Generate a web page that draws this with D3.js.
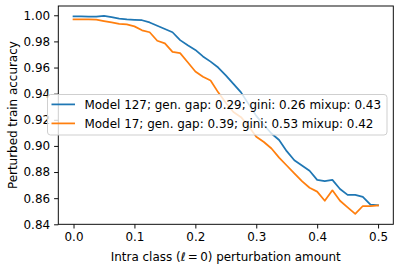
<!DOCTYPE html>
<html>
<head>
<meta charset="utf-8">
<script src="https://cdn.jsdelivr.net/npm/d3@7"></script>
<style>
  body { margin: 0; background: #fff; }
  text { font-family: "DejaVu Sans", sans-serif; fill: #000; }
</style>
</head>
<body>
<svg id="chart" width="399" height="272"></svg>
<script>
// perturbation amounts 0 .. 0.5 in steps of 0.0125
const amounts = d3.range(41).map(i => i * 0.0125);

const model127 = [
  0.9992, 0.9991, 0.9990, 0.9989, 0.9995, 0.9985, 0.9975, 0.9968, 0.9965, 0.9962,
  0.9945, 0.9920, 0.9895, 0.9870, 0.9810, 0.9770, 0.9735, 0.9685, 0.9645, 0.9600,
  0.9540, 0.9475, 0.9410, 0.9320, 0.9230, 0.9160, 0.9095, 0.9045, 0.8960, 0.8890,
  0.8850, 0.8810, 0.8740, 0.8730, 0.8740, 0.8670, 0.8625, 0.8625, 0.8610, 0.8550,
  0.8545
];

const model17 = [
  0.9969, 0.9969, 0.9968, 0.9966, 0.9955, 0.9945, 0.9935, 0.9930, 0.9915, 0.9885,
  0.9870, 0.9805, 0.9785, 0.9720, 0.9710, 0.9640, 0.9570, 0.9530, 0.9500, 0.9410,
  0.9330, 0.9260, 0.9220, 0.9150, 0.9070, 0.9030, 0.8980, 0.8910, 0.8850, 0.8790,
  0.8730, 0.8680, 0.8650, 0.8580, 0.8660, 0.8580, 0.8530, 0.8480, 0.8540, 0.8540,
  0.8545
];

const seriesNames = [
  "Model 127; gen. gap: 0.29; gini: 0.26 mixup: 0.43",
  "Model 17; gen. gap: 0.39; gini: 0.53 mixup: 0.42"
];
const seriesColors = ["#1f77b4", "#ff7f0e"];

const xTicks = [0.0, 0.1, 0.2, 0.3, 0.4, 0.5];
const yTicks = [0.84, 0.86, 0.88, 0.90, 0.92, 0.94, 0.96, 0.98, 1.00];

const svg = d3.select("#chart");
const plot = { left: 58.3, right: 393.3, top: 6, bottom: 224.3 };

// pick a font size so the first legend entry is as wide as in the picture (~296px)
const probe = svg.append("text").attr("font-size", 11.9).text(seriesNames[0]);
const probeW = probe.node().getComputedTextLength();
probe.remove();
const fontSize = probeW > 0 ? 11.9 * 296.4 / probeW : 11.9;

const x = d3.scaleLinear().domain([-0.025, 0.525]).range([plot.left, plot.right]);
const y = d3.scaleLinear().domain([0.84, 1.0071]).range([plot.bottom, plot.top]);

// axes
const xAxis = d3.axisBottom(x).tickValues(xTicks).tickFormat(d3.format(".1f")).tickSize(4.2).tickPadding(4);
const yAxis = d3.axisLeft(y).tickValues(yTicks).tickFormat(d3.format(".2f")).tickSize(4.2).tickPadding(4);

const gx = svg.append("g").attr("transform", `translate(0,${plot.bottom})`).call(xAxis);
const gy = svg.append("g").attr("transform", `translate(${plot.left},0)`).call(yAxis);
[gx, gy].forEach(g => {
  g.select(".domain").remove();
  g.selectAll(".tick line").attr("stroke", "#000").attr("stroke-width", 0.95);
  g.selectAll(".tick text").attr("font-size", fontSize).attr("font-family", "DejaVu Sans").attr("fill", "#000");
});

// lines
const line = d3.line().x((d, i) => x(amounts[i])).y(d => y(d));
[model127, model17].forEach((s, k) => {
  svg.append("path")
    .datum(s)
    .attr("d", line)
    .attr("fill", "none")
    .attr("stroke", seriesColors[k])
    .attr("stroke-width", 1.75)
    .attr("stroke-linejoin", "round")
    .attr("stroke-linecap", "square");
});

// frame
svg.append("rect")
  .attr("x", plot.left).attr("y", plot.top)
  .attr("width", plot.right - plot.left).attr("height", plot.bottom - plot.top)
  .attr("fill", "none").attr("stroke", "#000").attr("stroke-width", 0.95);

// legend
const legend = svg.append("g");
legend.append("rect")
  .attr("x", 47.5).attr("y", 94.5).attr("width", 339.5).attr("height", 40.5)
  .attr("rx", 3)
  .attr("fill", "#fff").attr("fill-opacity", 0.8)
  .attr("stroke", "#cccccc").attr("stroke-width", 0.95);
seriesNames.forEach((name, k) => {
  const ly = 104.4 + k * 19;
  legend.append("line")
    .attr("x1", 51.5).attr("x2", 75).attr("y1", ly).attr("y2", ly)
    .attr("stroke", seriesColors[k]).attr("stroke-width", 1.75);
  legend.append("text")
    .attr("x", 84.5).attr("y", ly + 0.36 * fontSize)
    .attr("font-size", fontSize)
    .text(name);
});

// axis labels
const xl = svg.append("text")
  .attr("x", (plot.left + plot.right) / 2).attr("y", 260.5)
  .attr("text-anchor", "middle").attr("font-size", fontSize);
xl.append("tspan").text("Intra class (");
xl.append("tspan").attr("font-style", "italic").text("ℓ");
xl.append("tspan").attr("font-size", fontSize * 0.6).text(" ");
xl.append("tspan").text("=");
xl.append("tspan").attr("font-size", fontSize * 0.6).text(" ");
xl.append("tspan").text("0) perturbation amount");

svg.append("text")
  .attr("transform", `translate(16.5,${(plot.top + plot.bottom) / 2}) rotate(-90)`)
  .attr("text-anchor", "middle").attr("font-size", fontSize)
  .text("Perturbed train accuracy");
</script>
</body>
</html>
